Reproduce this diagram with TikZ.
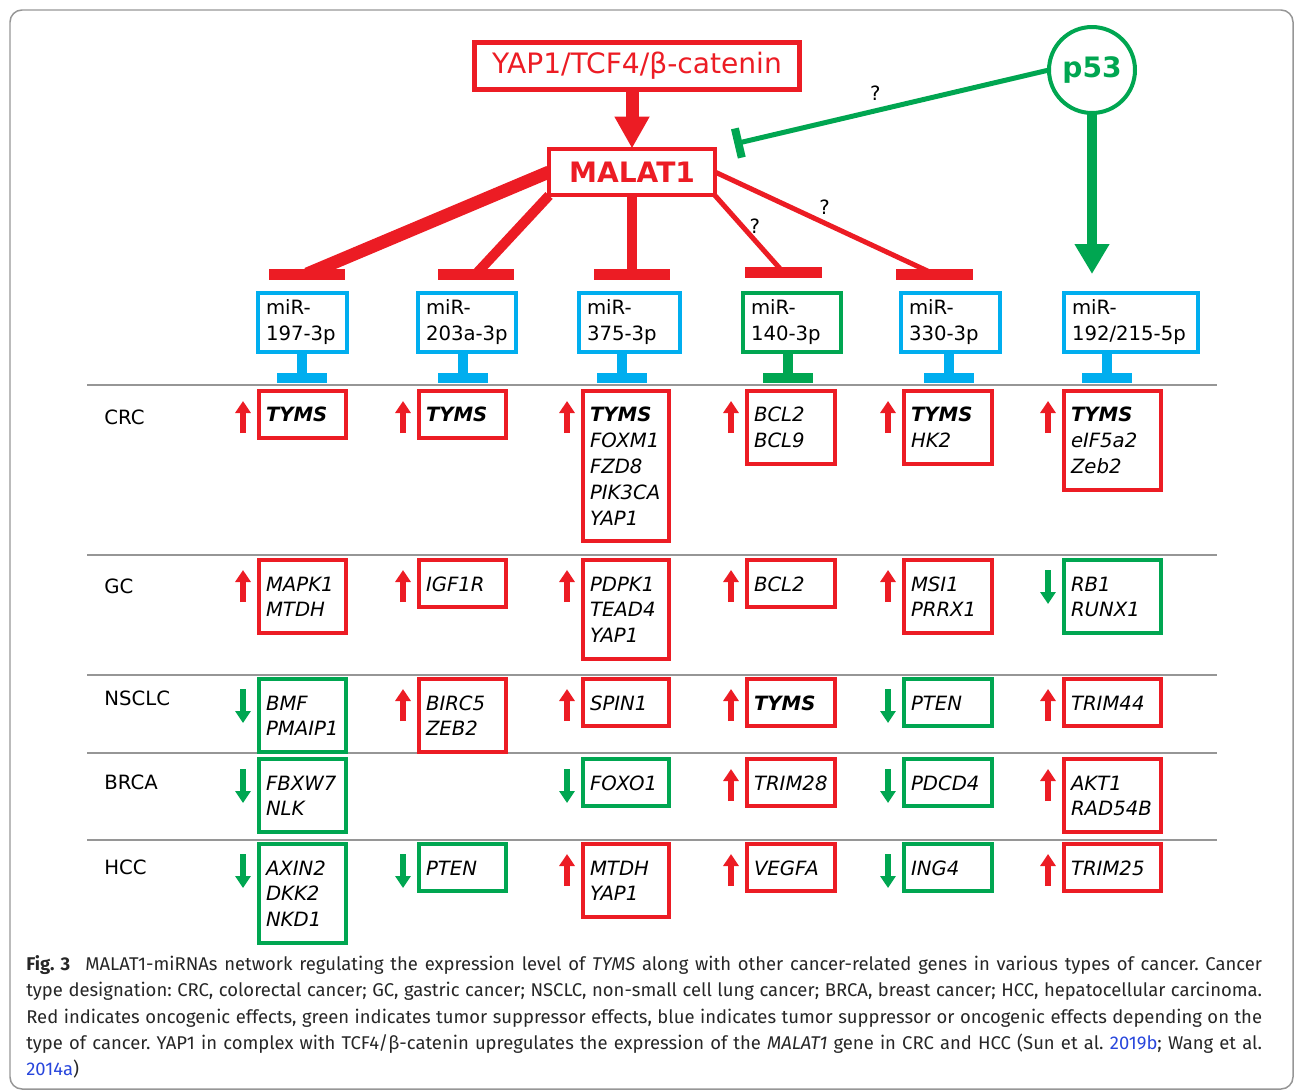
\documentclass[tikz,border=0pt]{standalone}
\usepackage{fontspec}
\setmainfont{DejaVu Sans}
\newfontfamily\capfont{Fira Sans}
\usetikzlibrary{arrows.meta}
\definecolor{oncored}{RGB}{236,28,36}
\definecolor{supgreen}{RGB}{0,166,81}
\definecolor{dualblue}{RGB}{0,174,239}
\definecolor{capblue}{RGB}{40,70,220}
\definecolor{rulegray}{RGB}{150,150,150}
\newcommand{\diagfont}{\fontsize{11.2}{14.75}\selectfont}
\newcommand{\genefont}{\diagfont\itshape}
\newcommand{\titlefont}{\fontsize{16}{19}\selectfont}
\tikzset{
    % Solid heads for the few big arrows
    >={Triangle},
%
    % Upstream regulator boxes
    regulator box/.style={
        draw=oncored, fill=white, text=oncored, line width=0.1cm,
        inner sep=0, outer sep=0, font=\titlefont},
%
    % miRNA boxes, the colour tells the effect
    mir box/.style 2 args={
        draw=#1, fill=white, line width=0.08cm, text width=#2,
        anchor=north west, align=left, inner xsep=0.16cm, inner ysep=0.07cm,
        outer sep=0, font=\diagfont,
        execute at begin node=\strut, execute at end node=\strut},
%
    % Target gene boxes, same idea
    gene box/.style 2 args={
        draw=#1, line width=0.08cm, text width=#2,
        anchor=north west, align=left, inner xsep=0.14cm, inner ysep=0.16cm,
        outer sep=0, font=\genefont,
        execute at begin node={\rule{0pt}{0.46cm}}, execute at end node=\strut},
%
    % Flat inhibition bars and their stems
    red bar/.style={fill=oncored, minimum width=1.54cm, minimum height=0.22cm,
        inner sep=0, outer sep=0},
    mir foot/.style={fill=#1, minimum width=1cm, minimum height=0.2cm,
        inner sep=0, outer sep=0},
    mir stem/.style={draw=#1, line width=0.2cm},
    red link/.style={draw=oncored, line width=#1},
%
    % Activation and inhibition connectors
    red push/.style={draw=oncored, line width=0.26cm,
        -{Triangle[width=0.66cm, length=0.64cm]}},
    green push/.style={draw=supgreen, line width=0.2cm, shorten >=0.38cm,
        -{Triangle[width=0.66cm, length=0.6cm]}},
    green block/.style={draw=supgreen, line width=0.1cm, shorten >=0.4cm,
        -{Bar[width=0.6cm, line width=0.16cm]}},
%
    % Small up and down marks beside the genes
    up mark/.style={draw=oncored, line width=0.12cm,
        -{Triangle[width=0.3cm, length=0.24cm]}},
    down mark/.style={draw=supgreen, line width=0.12cm,
        -{Triangle[width=0.3cm, length=0.24cm]}},
%
    row rule/.style={draw=rulegray, line width=0.04cm},
    row label/.style={anchor=west, font=\diagfont, inner sep=0},
    q mark/.style={font=\diagfont, text=black, inner sep=0}}
\pgfdeclarelayer{background}
\pgfsetlayers{background,main}

\begin{document}
\begin{tikzpicture}[x=0.02cm, y=-0.02cm]

\useasboundingbox (0,0) rectangle (1295,1092);
\draw [rulegray, line width=0.03cm, rounded corners=0.24cm]
    (10,10) rectangle (1293,1089);

% Regulators

\node [regulator box, minimum width=6.5cm, minimum height=0.94cm]
    (yap) at (637,66) {YAP1/TCF4/β-catenin};
\node [regulator box, line width=0.08cm, minimum width=3.32cm,
    minimum height=0.94cm, font=\titlefont\bfseries]
    (malat) at (632,172) {MALAT1};
\node [circle, draw=supgreen, fill=white, line width=0.08cm, minimum size=1.72cm,
    inner sep=0, outer sep=0, text=supgreen, font=\titlefont\bfseries]
    (p53) at (1092,70) {p53};

\draw [red push] (malat.north |- yap.south) -- (malat.north);

% miRNAs

\node [mir box={dualblue}{1.46cm}] (m197) at (258,293) {miR-\\197-3p};
\node [mir box={dualblue}{1.64cm}] (m203) at (418,293) {miR-\\203a-3p};
\node [mir box={dualblue}{1.70cm}] (m375) at (579,293) {miR-\\375-3p};
\node [mir box={supgreen}{1.64cm}] (m140) at (743,293) {miR-\\140-3p};
\node [mir box={dualblue}{1.66cm}] (m330) at (901,293) {miR-\\330-3p};
\node [mir box={dualblue}{2.36cm}] (m192) at (1064,293) {miR-\\192/215-5p};

\node [red bar] (b197) at (307,274) {};
\node [red bar] (b203) at (476,274) {};
\node [red bar] (b375) at (632,274) {};
\node [red bar] (b140) at (783,272) {};
\node [red bar] (b330) at (934,274) {};

\node [mir foot=dualblue] (t197) at (302,378) {};
\node [mir foot=dualblue] (t203) at (463,378) {};
\node [mir foot=dualblue] (t375) at (622,378) {};
\node [mir foot=supgreen] (t140) at (788,378) {};
\node [mir foot=dualblue] (t330) at (949,378) {};
\node [mir foot=dualblue] (t192) at (1107,378) {};

\draw [mir stem=dualblue] (m197.south -| t197) -- (t197.north);
\draw [mir stem=dualblue] (m203.south -| t203) -- (t203.north);
\draw [mir stem=dualblue] (m375.south -| t375) -- (t375.north);
\draw [mir stem=supgreen] (m140.south -| t140) -- (t140.north);
\draw [mir stem=dualblue] (m330.south -| t330) -- (t330.north);
\draw [mir stem=dualblue] (m192.south -| t192) -- (t192.north);

\begin{pgfonlayer}{background}
\draw [red link=0.26cm] (malat.west) -- (b197.center);
\draw [red link=0.2cm] (malat.south west) -- (b203.center);
\draw [red link=0.2cm] (malat.south) -- (b375.center);
\draw [red link=0.1cm] (malat.south east) -- (b140.center)
    node [q mark, pos=0.4, right=0.1cm] {?};
\draw [red link=0.1cm] (malat.east) -- (b330.center)
    node [q mark, pos=0.5, above=0.12cm] {?};
\draw [green block] (p53.west) -- (malat.north east)
    node [q mark, pos=0.52, above=0.15cm] {?};
\draw [green push] (p53.south) -- (p53.south |- m192.north);
\end{pgfonlayer}

% Cancer types

\draw [row rule] (87,385) -- (1217,385) (87,555) -- (1217,555)
    (87,675) -- (1217,675) (87,753) -- (1217,753) (87,840) -- (1217,840);

\node [row label] (crc) at (104,417) {CRC};
\node [row label] (gc) at (104,586) {GC};
\node [row label] (nsclc) at (104,698) {NSCLC};
\node [row label] (brca) at (104,782) {BRCA};
\node [row label] (hcc) at (104,867) {HCC};

% CRC
\node [gene box={oncored}{1.46cm}] (crc197) at (259,391) {\textbf{TYMS}};
\node [gene box={oncored}{1.46cm}] (crc203) at (419,391) {\textbf{TYMS}};
\node [gene box={oncored}{1.44cm}] (crc375) at (583,391)
    {\textbf{TYMS}\\FOXM1\\FZD8\\PIK3CA\\YAP1};
\node [gene box={oncored}{1.48cm}] (crc140) at (747,391) {BCL2\\BCL9};
\node [gene box={oncored}{1.48cm}] (crc330) at (904,391) {\textbf{TYMS}\\HK2};
\node [gene box={oncored}{1.66cm}] (crc192) at (1064,391)
    {\textbf{TYMS}\\eIF5a2\\Zeb2};
\draw [up mark] (crc197.north west) ++(-16,42) -- ++(0,-32);
\draw [up mark] (crc203.north west) ++(-16,42) -- ++(0,-32);
\draw [up mark] (crc375.north west) ++(-16,42) -- ++(0,-32);
\draw [up mark] (crc140.north west) ++(-16,42) -- ++(0,-32);
\draw [up mark] (crc330.north west) ++(-16,42) -- ++(0,-32);
\draw [up mark] (crc192.north west) ++(-16,42) -- ++(0,-32);

% GC
\node [gene box={oncored}{1.46cm}] (gc197) at (259,560) {MAPK1\\MTDH};
\node [gene box={oncored}{1.46cm}] (gc203) at (419,560) {IGF1R};
\node [gene box={oncored}{1.44cm}] (gc375) at (583,560) {PDPK1\\TEAD4\\YAP1};
\node [gene box={oncored}{1.48cm}] (gc140) at (747,560) {BCL2};
\node [gene box={oncored}{1.48cm}] (gc330) at (904,560) {MSI1\\PRRX1};
\node [gene box={supgreen}{1.66cm}] (gc192) at (1064,560) {RB1\\RUNX1};
\draw [up mark] (gc197.north west) ++(-16,42) -- ++(0,-32);
\draw [up mark] (gc203.north west) ++(-16,42) -- ++(0,-32);
\draw [up mark] (gc375.north west) ++(-16,42) -- ++(0,-32);
\draw [up mark] (gc140.north west) ++(-16,42) -- ++(0,-32);
\draw [up mark] (gc330.north west) ++(-16,42) -- ++(0,-32);
\draw [down mark] (gc192.north west) ++(-16,10) -- ++(0,34);

% NSCLC
\node [gene box={supgreen}{1.46cm}] (ns197) at (259,679) {BMF\\PMAIP1};
\node [gene box={oncored}{1.46cm}] (ns203) at (419,679) {BIRC5\\ZEB2};
\node [gene box={oncored}{1.44cm}] (ns375) at (583,679) {SPIN1};
\node [gene box={oncored}{1.48cm}] (ns140) at (747,679) {\textbf{TYMS}};
\node [gene box={supgreen}{1.48cm}] (ns330) at (904,679) {PTEN};
\node [gene box={oncored}{1.66cm}] (ns192) at (1064,679) {TRIM44};
\draw [down mark] (ns197.north west) ++(-16,10) -- ++(0,34);
\draw [up mark] (ns203.north west) ++(-16,42) -- ++(0,-32);
\draw [up mark] (ns375.north west) ++(-16,42) -- ++(0,-32);
\draw [up mark] (ns140.north west) ++(-16,42) -- ++(0,-32);
\draw [down mark] (ns330.north west) ++(-16,10) -- ++(0,34);
\draw [up mark] (ns192.north west) ++(-16,42) -- ++(0,-32);

% BRCA
\node [gene box={supgreen}{1.46cm}] (br197) at (259,759) {FBXW7\\NLK};
\node [gene box={supgreen}{1.44cm}] (br375) at (583,759) {FOXO1};
\node [gene box={oncored}{1.48cm}] (br140) at (747,759) {TRIM28};
\node [gene box={supgreen}{1.48cm}] (br330) at (904,759) {PDCD4};
\node [gene box={oncored}{1.66cm}] (br192) at (1064,759) {AKT1\\RAD54B};
\draw [down mark] (br197.north west) ++(-16,10) -- ++(0,34);
\draw [down mark] (br375.north west) ++(-16,10) -- ++(0,34);
\draw [up mark] (br140.north west) ++(-16,42) -- ++(0,-32);
\draw [down mark] (br330.north west) ++(-16,10) -- ++(0,34);
\draw [up mark] (br192.north west) ++(-16,42) -- ++(0,-32);

% HCC
\node [gene box={supgreen}{1.46cm}] (hc197) at (259,844) {AXIN2\\DKK2\\NKD1};
\node [gene box={supgreen}{1.46cm}] (hc203) at (419,844) {PTEN};
\node [gene box={oncored}{1.44cm}] (hc375) at (583,844) {MTDH\\YAP1};
\node [gene box={oncored}{1.48cm}] (hc140) at (747,844) {VEGFA};
\node [gene box={supgreen}{1.48cm}] (hc330) at (904,844) {ING4};
\node [gene box={oncored}{1.66cm}] (hc192) at (1064,844) {TRIM25};
\draw [down mark] (hc197.north west) ++(-16,10) -- ++(0,34);
\draw [down mark] (hc203.north west) ++(-16,10) -- ++(0,34);
\draw [up mark] (hc375.north west) ++(-16,42) -- ++(0,-32);
\draw [up mark] (hc140.north west) ++(-16,42) -- ++(0,-32);
\draw [down mark] (hc330.north west) ++(-16,10) -- ++(0,34);
\draw [up mark] (hc192.north west) ++(-16,42) -- ++(0,-32);

% Caption

\node [anchor=north west, inner sep=0, text width=24.72cm, align=justify,
    text=black!85, font=\capfont\fontsize{10.5}{15}\selectfont\frenchspacing]
    (caption) at (26,955)
    {\noindent\textbf{Fig.~3}\hspace{0.3cm}MALAT1-miRNAs network regulating the
    expression level of \textit{TYMS} along with other cancer-related genes in
    various types of cancer. Cancer\linebreak
    type designation: CRC, colorectal cancer; GC, gastric cancer; NSCLC,
    non-small cell lung cancer; BRCA, breast cancer; HCC, hepatocellular
    carcinoma.\linebreak
    Red indicates oncogenic effects, green indicates tumor suppressor effects,
    blue indicates tumor suppressor or oncogenic effects depending on the\linebreak
    type of cancer. YAP1 in complex with TCF4/β-catenin upregulates the
    expression of the \textit{MALAT1} gene in CRC and HCC (Sun et~al.\
    {\color{capblue}2019b}; Wang et~al.\linebreak
    {\color{capblue}2014a})};

\end{tikzpicture}
\end{document}
